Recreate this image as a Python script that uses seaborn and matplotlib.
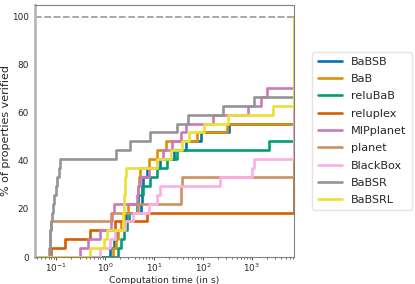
import pandas as pd
import matplotlib
matplotlib.use("Agg")
import matplotlib.pyplot as plt
import seaborn as sns

# Style
sns.set_style("white")

# Data: solve times (s) of each verified property, per method
n_props = 27
timeout = 7200
methods = ["BaBSB", "BaB", "reluBaB", "reluplex", "MIPplanet",
           "planet", "BlackBox", "BaBSR", "BaBSRL"]

babsb = [1.27, 1.53, 1.68, 2.45, 2.7, 5.5, 5.6, 5.8, 6.0, 7.3, 13.5, 25.2, 45, 93, 340]
bab = [1.46, 1.68, 1.85, 2.13, 2.45, 2.97, 4.76, 4.8, 4.9, 5.2, 8.0, 11.7, 17.9, 74, 313]
relubab = [1.85, 2.13, 2.45, 2.83, 3.1, 4.5, 4.6, 6.0, 8.4, 11.5, 18.5, 29.6, 2260]
reluplex = [0.08, 0.153, 0.5, 1.6, 7.3]
mipplanet = [0.31, 0.45, 0.79, 1.3, 1.35, 1.55, 4.5, 4.8, 5.1, 8.0, 11.5, 15, 23,
             35, 44, 160, 850, 1520, 2020]
planet = [0.072, 0.073, 0.074, 0.079, 1.33, 4.8, 35, 36, 38]
blackbox = [0.79, 1.27, 1.6, 2.57, 3.8, 7.75, 11.5, 13, 222, 995, 1110]
babsr = [0.073, 0.074, 0.075, 0.078, 0.082, 0.086, 0.09, 0.097, 0.105, 0.112, 0.12,
         1.68, 3.16, 8.1, 30, 49, 261, 1080]
babsrl = [0.48, 0.95, 1.08, 2.3, 2.35, 2.4, 2.45, 2.5, 2.55, 2.7, 11.7, 22.6, 37.6,
          51.4, 104, 324, 2720]

times = [babsb, bab, relubab, reluplex, mipplanet, planet, blackbox, babsr, babsrl]

# Build cactus-plot table
rows = []
for name, ts in zip(methods, times):
    rows.append((name, 0.01, 0.0))
    for k, t in enumerate(sorted(ts), start=1):
        rows.append((name, t, 100.0 * k / n_props))
    rows.append((name, timeout, 100.0))
df = pd.DataFrame(rows, columns=["method", "time", "pct"])

fig, ax = plt.subplots(figsize=(4.15, 2.84), dpi=100)
fig.subplots_adjust(left=0.084, right=0.708, top=0.983, bottom=0.095)

ax.axhline(100, color="#999999", ls="--", lw=1.2, dashes=(4, 1.6), zorder=1)
sns.lineplot(data=df, x="time", y="pct", hue="method", hue_order=methods,
             palette="colorblind", estimator=None, sort=False,
             drawstyle="steps-post", lw=1.9, ax=ax)

ax.set_xscale("log")
ax.set_xlim(0.0366, timeout)
ax.set_ylim(0, 105)
ax.set_yticks([0, 20, 40, 60, 80, 100])
ax.set_xlabel("Computation time (in s)", fontsize=6.7, labelpad=1)
ax.set_ylabel("% of properties verified", fontsize=8.0, labelpad=0.5)
ax.tick_params(axis="both", labelsize=6.4, pad=1)
ax.tick_params(axis="x", which="both", bottom=True, color="#333333")
ax.tick_params(axis="x", which="major", length=2.5, width=0.6)
ax.tick_params(axis="x", which="minor", length=1.5, width=0.5)

for side in ["top", "right", "bottom"]:
    ax.spines[side].set_color("#808080")
    ax.spines[side].set_linewidth(0.8)
ax.spines["left"].set_color("#b8b8b8")
ax.spines["left"].set_linewidth(2.0)

leg = ax.legend(loc="center left", bbox_to_anchor=(1.072, 0.5), borderaxespad=0,
                fontsize=8.1, handlelength=2.2, handletextpad=0.8,
                labelspacing=0.65, frameon=True, borderpad=0.45)
leg.get_frame().set_edgecolor("#dddddd")
for line in leg.get_lines():
    line.set_linewidth(1.9)

plt.savefig("out.png", dpi=100)
plt.close()
